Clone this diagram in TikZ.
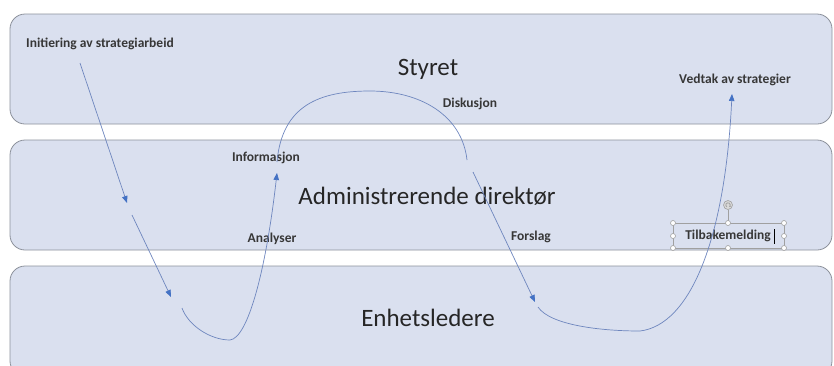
\documentclass[tikz,border=0pt]{standalone}
\usepackage{fontspec}
\setmainfont{Carlito}
\usetikzlibrary{
    arrows.meta,
    positioning
}
\definecolor{lanefill}{RGB}{218,224,239}
\definecolor{laneline}{RGB}{140,145,155}
\definecolor{flowcol}{RGB}{110,134,190}
\definecolor{flowtip}{RGB}{68,114,196}
\definecolor{tagtext}{RGB}{55,55,55}
\definecolor{gripcol}{RGB}{160,160,160}
\tikzset{
    every picture/.style = {
        > = {Triangle[length=7pt, width=5.5pt, color=flowtip]},
        x = 1pt,
        y = -1pt
    },
    lane/.style = {
        draw = laneline,
        fill = lanefill,
        line width = 0.8pt,
        rounded corners = 15pt,
        minimum width = 822pt,
        minimum height = 110pt,
        inner sep = 0pt,
        outer sep = 0pt
    },
    lanetitle/.style = {
        font = \fontsize{25}{30}\selectfont,
        text = black!85,
        inner sep = 1pt
    },
    tag/.style = {
        font = \fontsize{13.5}{16}\selectfont\bfseries,
        text = tagtext,
        inner sep = 1pt
    },
    flowline/.style = {
        draw = flowcol,
        line width = 0.7pt
    },
    selbox/.style = {
        draw = gripcol,
        line width = 0.6pt
    },
    grip/.style = {
        draw = gripcol,
        fill = white,
        line width = 0.6pt
    }
}

\begin{document}
\begin{tikzpicture}
    \clip (0,0) rectangle (834,365);

    % lanes
    \node[lane] (styret) at (421,69) {};
    \node[lane, below = 16pt of styret] (admin) {};
    \node[lane, below = 16pt of admin] (enhet) {};

    \node[lanetitle] (t1) at (428,69) {Styret};
    \node[lanetitle] (t2) at (427,196) {Administrerende direktør};
    \node[lanetitle] (t3) at (428,318) {Enhetsledere};

    % labels
    \node[tag] (init) at (100,44) {Initiering av strategiarbeid};
    \node[tag] (disk) at (470,104) {Diskusjon};
    \node[tag] (vedtak) at (735,80) {Vedtak av strategier};
    \node[tag] (info) at (266,158) {Informasjon};
    \node[tag] (analyse) at (272,239) {Analyser};
    \node[tag] (forslag) at (531,237) {Forslag};
    \node[tag] (tilbake) at (728,236) {Tilbakemelding};

    % selected text box
    \draw[selbox] (673,223) rectangle (784,248);
    \draw[selbox] (728,223) -- (728,210);
    \foreach \x/\y in {673/223, 728/223, 784/223, 673/236,
                       784/236, 673/248, 728/248, 784/248}
        \draw[grip] (\x,\y) circle (2.5pt);
    \draw[grip, fill=gripcol!40] (728,205) circle (4.5pt);
    \draw[selbox, line width=0.8pt, -{Stealth[length=2pt]}] (728,205) ++(60:-2.2pt) arc (240:-60:2.2pt);
    \draw[black, line width=0.7pt] (774,229) -- (774,244);

    % flow
    \coordinate (a0) at (80,63);
    \coordinate (a1) at (127,203);
    \coordinate (b0) at (132,215);
    \coordinate (b1) at (171,297);
    \coordinate (c0) at (182,308);
    \coordinate (c1) at (230,340);
    \coordinate (c2) at (277,173);
    \coordinate (d0) at (277,162);
    \coordinate (d1) at (370,91);
    \coordinate (d2) at (467,160);
    \coordinate (e0) at (473,172);
    \coordinate (e1) at (535,302);
    \coordinate (f0) at (538,307);
    \coordinate (f1) at (640,331);
    \coordinate (f2) at (732,94);

    \draw[flowline, ->] (a0) -- (a1);
    \draw[flowline, ->] (b0) -- (b1);
    \draw[flowline, ->] (c0) .. controls (188,325) and (210,340) .. (c1)
        .. controls (248,338) and (266,270) .. (c2);
    \draw[flowline] (d0) .. controls (282,105) and (320,91) .. (d1)
        .. controls (420,91) and (462,115) .. (d2);
    \draw[flowline, ->] (e0) -- (e1);
    \draw[flowline, ->] (f0) .. controls (550,325) and (600,331) .. (f1)
        .. controls (690,325) and (725,240) .. (f2);
\end{tikzpicture}
\end{document}
